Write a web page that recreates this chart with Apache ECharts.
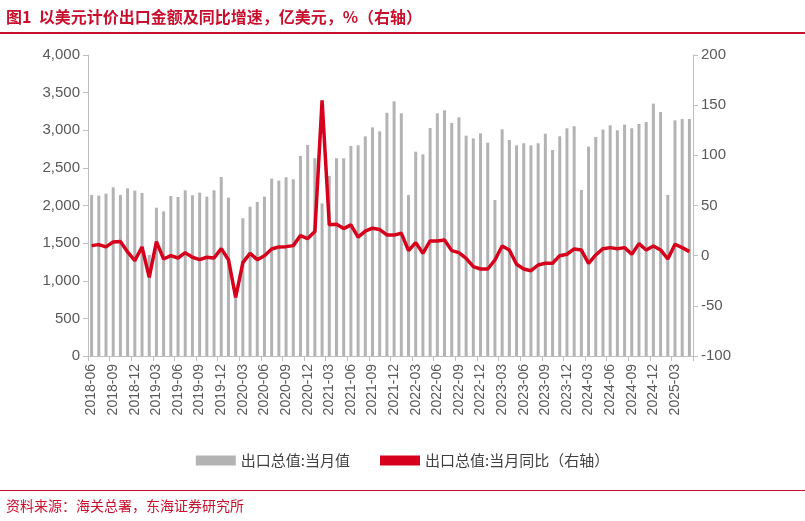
<!DOCTYPE html>
<html>
<head>
<meta charset="utf-8">
<script src="https://cdn.jsdelivr.net/npm/echarts@6/dist/echarts.min.js"></script>
<style>
  body { margin: 0; background: #fff; font-family: "Noto Sans CJK SC", sans-serif; }
  #title { position: absolute; left: 6px; top: 4px; font-size: 16px; font-weight: bold; color: #c8102e; }
  #topline { position: absolute; left: 0; top: 32px; width: 805px; height: 2px; background: #c8102e; }
  #botline { position: absolute; left: 0; top: 490px; width: 805px; height: 1px; background: #c8102e; }
  #source { position: absolute; left: 6px; top: 495px; font-size: 14px; color: #c8102e; }
  #chart { position: absolute; left: 0; top: 0; width: 805px; height: 521px; }
</style>
</head>
<body>
<div id="chart"></div>
<div id="title">图1&nbsp; 以美元计价出口金额及同比增速，亿美元，%（右轴）</div>
<div id="topline"></div>
<div id="botline"></div>
<div id="source">资料来源：海关总署，东海证券研究所</div>
<script>
// 月份：2018-06 ~ 2025-05
var months = [];
for (var y = 2018; y <= 2025; y++) {
	for (var m = 1; m <= 12; m++) {
		if ((y === 2018 && m < 6) || (y === 2025 && m > 5)) continue;
		months.push(y + '-' + (m < 10 ? '0' + m : m));
	}
}

// 出口总值:当月值（亿美元）
var exportValue = [
	2140, 2131, 2158, 2242, 2140, 2228, 2198, 2167, 1342, 1971,
	1922, 2126, 2113, 2202, 2136, 2171, 2118, 2202, 2379, 2104,
	800, 1830, 1985, 2047, 2118, 2357, 2331, 2375, 2348, 2659,
	2805, 2628, 2029, 2392, 2628, 2628, 2792, 2800, 2919, 3038,
	2985, 3233, 3384, 3225, 2140, 2715, 2680, 3030, 3225, 3265,
	3097, 3172, 2928, 2893, 2960, 2835, 2073, 3013, 2871, 2800,
	2827, 2800, 2827, 2955, 2738, 2920, 3026, 3053, 2206, 2782,
	2911, 3008, 3066, 3000, 3075, 3026, 3083, 3110, 3353, 3243,
	2140, 3132, 3150, 3150
];

// 出口总值:当月同比（%）
var exportYoy = [
	10, 11, 8.7, 13.7, 14, 3.7, -5, 8.7, -21.6, 14,
	-3.3, 0, -2.3, 3, -1.6, -4, -1.6, -2.3, 7, -4,
	-41.6, -7, 2.3, -4, 0, 6.7, 8.7, 9, 10, 20,
	17, 24, 154.7, 30.7, 31.4, 27, 30.7, 18.4, 24.4, 27.4,
	26, 20.7, 20.5, 22.4, 5, 13, 2.4, 14.7, 14.7, 15.7,
	5, 3, -2.6, -11, -13.3, -13.3, -4.3, 9.7, 5.7, -8.6,
	-13.3, -15, -9.3, -7.6, -7.6, 0, 1.4, 6.7, 5.6, -7.6,
	0.7, 7, 8, 7, 8, 1.4, 12, 5.7, 9.7, 5.7,
	-3.3, 11.4, 8, 4
];

var chart = echarts.init(document.getElementById('chart'));
var axisText = { color: '#595959', fontSize: 15, fontFamily: 'Liberation Sans', formatter: '{value}' };
var axisLine = { show: true, lineStyle: { color: '#bfbfbf' } };

chart.setOption({
	animation: false,
	grid: { left: 88, right: 112, top: 55, bottom: 165 },
	legend: {
		bottom: 48,
		left: 'center',
		itemGap: 30,
		textStyle: { fontSize: 15, color: '#404040', fontFamily: 'Noto Sans CJK SC' },
		data: [
			{ name: '出口总值:当月值', icon: 'rect', itemStyle: { color: '#b3b3b3' } },
			{ name: '出口总值:当月同比（右轴）', icon: 'rect' }
		],
		itemWidth: 40,
		itemHeight: 10
	},
	xAxis: {
		type: 'category',
		data: months,
		boundaryGap: true,
		axisLine: axisLine,
		axisTick: { show: true, interval: 2, lineStyle: { color: '#bfbfbf' } },
		axisLabel: { interval: 2, rotate: 90, color: '#595959', fontSize: 14, fontFamily: 'Liberation Sans' }
	},
	yAxis: [{
		type: 'value',
		min: 0,
		max: 4000,
		interval: 500,
		splitLine: { show: false },
		axisLine: axisLine,
		axisTick: { show: true, lineStyle: { color: '#bfbfbf' } },
		axisLabel: axisText
	}, {
		type: 'value',
		min: -100,
		max: 200,
		interval: 50,
		splitLine: { show: false },
		axisLine: axisLine,
		axisTick: { show: true, lineStyle: { color: '#bfbfbf' } },
		axisLabel: axisText
	}],
	series: [{
		name: '出口总值:当月值',
		type: 'bar',
		data: exportValue,
		barWidth: 3,
		itemStyle: { color: '#b3b3b3' }
	}, {
		name: '出口总值:当月同比（右轴）',
		type: 'line',
		yAxisIndex: 1,
		data: exportYoy,
		symbol: 'none',
		lineStyle: { color: '#d6001c', width: 3.5 },
		itemStyle: { color: '#d6001c' }
	}]
});
</script>
</body>
</html>
